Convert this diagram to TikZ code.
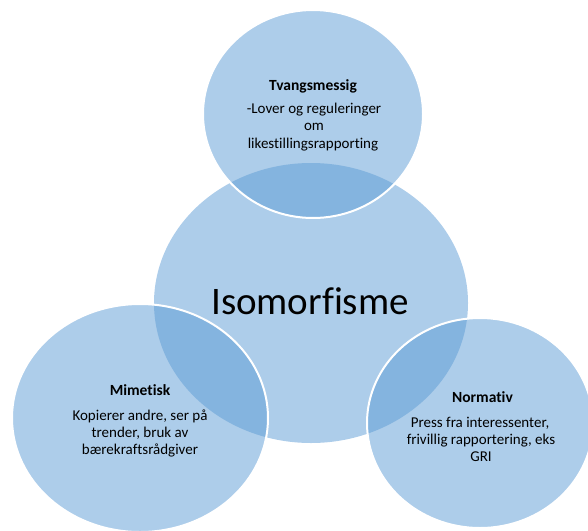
\documentclass[tikz,border=0pt]{standalone}
\usepackage{fontspec}
\setmainfont{Carlito}[Ligatures=NoCommon]
\begin{document}
\begin{tikzpicture}[x=1pt,y=-1pt,
  disc/.style={fill=vennlight},
  lens/.style={fill=venndark},
  rim/.style={draw=white,line width=2pt},
  head/.style={anchor=base,inner sep=0pt,font=\fontsize{15.5}{17}\selectfont\bfseries},
  body/.style={anchor=base,inner sep=0pt,font=\fontsize{15}{17}\selectfont},
  big/.style={anchor=base,inner sep=0pt,font=\fontsize{39}{45}\selectfont}]
\definecolor{vennlight}{HTML}{ADCDEA}
\definecolor{venndark}{HTML}{84B4DF}
\useasboundingbox (0,0) rectangle (588,530);
\clip (0,0) rectangle (588,530);

% centres of the four discs
\coordinate (cmid) at (311,303);
\coordinate (ctop) at (313,114);
\coordinate (cleft) at (140,418);
\coordinate (cright) at (480,423);

% discs
\fill[disc] (cmid) ellipse [x radius=157, y radius=140];
\fill[disc] (ctop) ellipse [x radius=110, y radius=104];
\fill[disc] (cleft) ellipse [x radius=128, y radius=114];
\fill[disc] (cright) ellipse [x radius=113, y radius=105];

% overlaps with the central disc
\begin{scope}
  \clip (cmid) ellipse [x radius=157, y radius=140];
  \fill[lens] (ctop) ellipse [x radius=110, y radius=104];
  \fill[lens] (cleft) ellipse [x radius=128, y radius=114];
  \fill[lens] (cright) ellipse [x radius=113, y radius=105];
\end{scope}

% white rims of the outer discs
\draw[rim] (ctop) ellipse [x radius=110, y radius=104];
\draw[rim] (cleft) ellipse [x radius=128, y radius=114];
\draw[rim] (cright) ellipse [x radius=113, y radius=105];

% labels
\node[big] (title) at (310,314) {Isomorfisme};

\node[head] (tvang) at (313,90) {Tvangsmessig};
\node[body] (tvang1) at (314,113) {-Lover og reguleringer};
\node[body] (tvang2) at (314,130.5) {om};
\node[body] (tvang3) at (313,148) {likestillingsrapporting};

\node[head] (mim) at (140,395) {Mimetisk};
\node[body] (mim1) at (140,420) {Kopierer andre, ser på};
\node[body] (mim2) at (140,437) {trender, bruk av};
\node[body] (mim3) at (140,454) {bærekraftsrådgiver};

\node[head] (norm) at (482.5,402) {Normativ};
\node[body] (norm1) at (480,427) {Press fra interessenter,};
\node[body] (norm2) at (481,444) {frivillig rapportering, eks};
\node[body] (norm3) at (481,461) {GRI};
\end{tikzpicture}
\end{document}
